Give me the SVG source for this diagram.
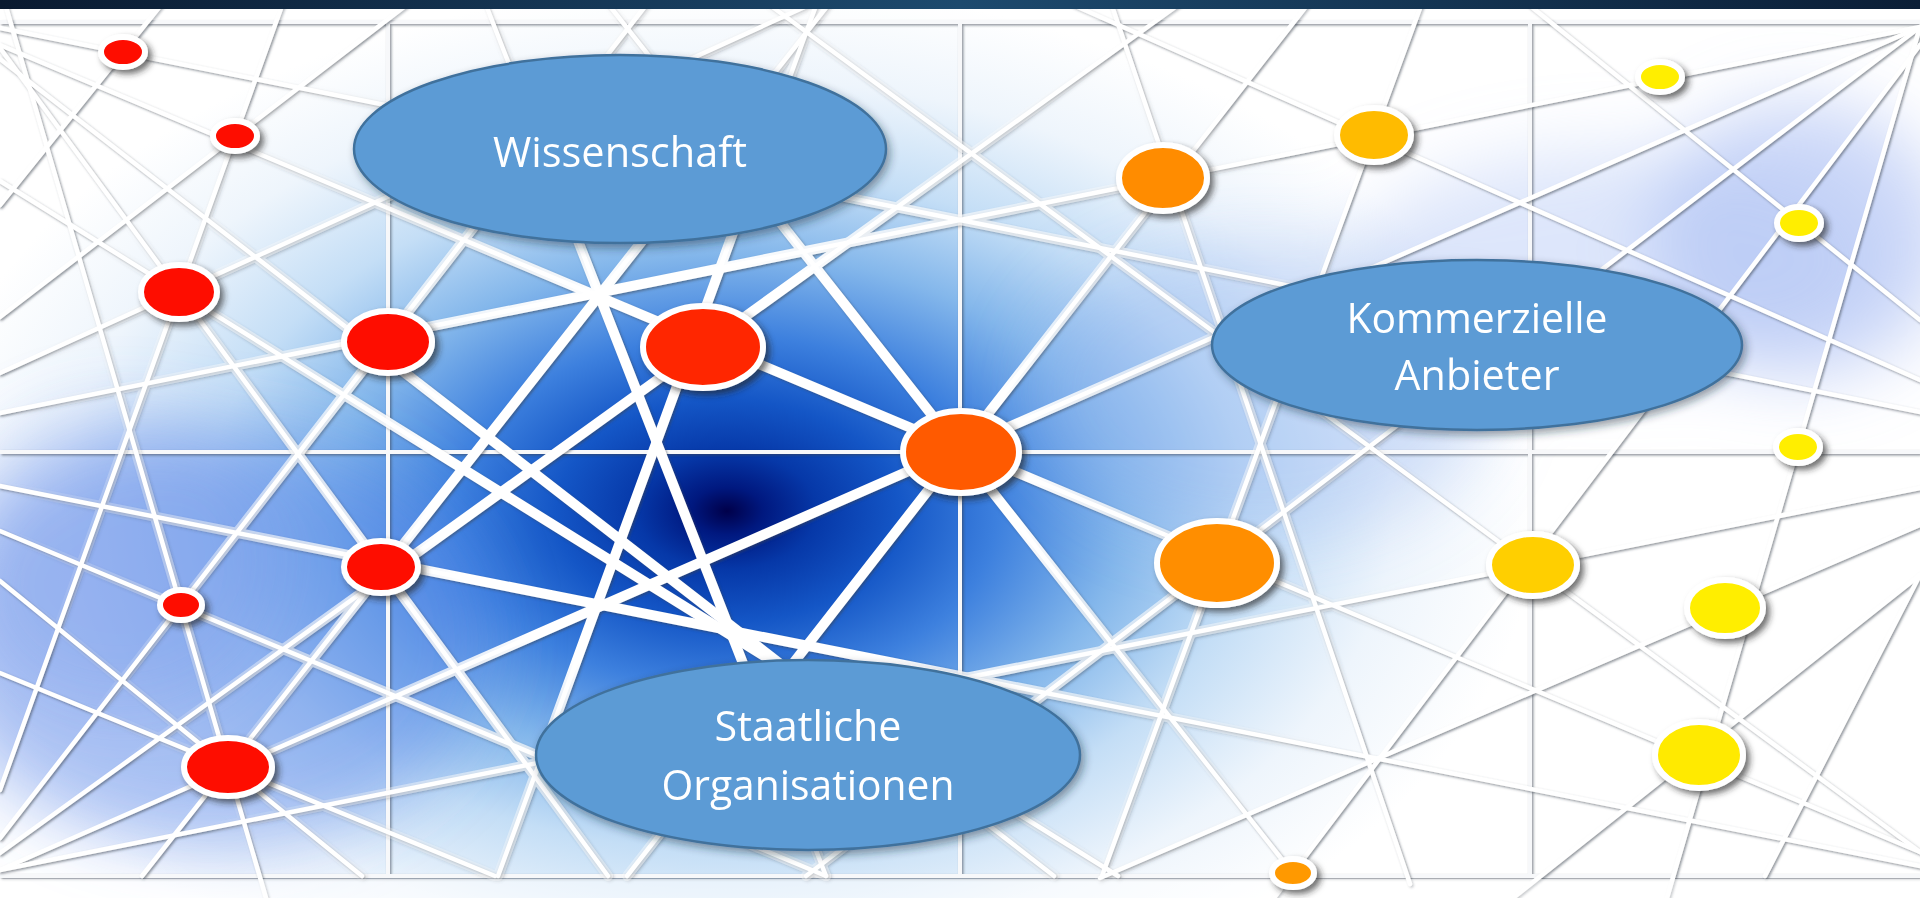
<svg xmlns="http://www.w3.org/2000/svg" xmlns:xlink="http://www.w3.org/1999/xlink" width="1920" height="898" viewBox="0 0 1920 898">
<defs>
  <radialGradient id="bg" gradientUnits="userSpaceOnUse" cx="727" cy="511" r="900" gradientTransform="translate(727 511) scale(1 0.65) translate(-727 -511)">
    <stop offset="0" stop-color="#00004a"/>
    <stop offset="0.04" stop-color="#00187f"/>
    <stop offset="0.1" stop-color="#0638a8"/>
    <stop offset="0.19" stop-color="#1456c6"/>
    <stop offset="0.3" stop-color="#3d80de"/>
    <stop offset="0.44" stop-color="#84b7eb"/>
    <stop offset="0.58" stop-color="#c4def6"/>
    <stop offset="0.74" stop-color="#eef5fc"/>
    <stop offset="0.9" stop-color="#ffffff"/>
  </radialGradient>
  <radialGradient id="maskGrad" gradientUnits="userSpaceOnUse" cx="727" cy="480" r="850" gradientTransform="translate(727 480) scale(1 0.7) translate(-727 -480)">
    <stop offset="0" stop-color="#fff"/>
    <stop offset="0.35" stop-color="#fff"/>
    <stop offset="0.6" stop-color="#777"/>
    <stop offset="0.85" stop-color="#000"/>
  </radialGradient>
  <linearGradient id="topband" x1="0" y1="0" x2="1" y2="0">
    <stop offset="0" stop-color="#0a1a30"/>
    <stop offset="0.5" stop-color="#1d4a6e"/>
    <stop offset="1" stop-color="#0b1e36"/>
  </linearGradient>
  <mask id="thickMask" maskUnits="userSpaceOnUse" x="0" y="0" width="1920" height="898">
    <rect width="1920" height="898" fill="url(#maskGrad)"/>
  </mask>
  <filter id="blur40" x="-50%" y="-50%" width="200%" height="200%">
    <feGaussianBlur stdDeviation="35"/>
  </filter>
  <filter id="lineShadow" x="-5%" y="-5%" width="110%" height="110%">
    <feDropShadow dx="1.5" dy="1.5" stdDeviation="1.2" flood-color="#3a4450" flood-opacity="0.55"/>
  </filter>
  <filter id="nodeShadow" x="-40%" y="-40%" width="180%" height="180%">
    <feDropShadow dx="4" dy="4" stdDeviation="3" flood-color="#202020" flood-opacity="0.65"/>
  </filter>
  <filter id="labelShadow" x="-20%" y="-30%" width="140%" height="160%">
    <feDropShadow dx="3" dy="4" stdDeviation="4" flood-color="#1c2a3a" flood-opacity="0.45"/>
  </filter>
  <style>
    .net line { stroke: #ffffff; stroke-linecap: round; }
    .grid line { stroke: #f7f8fa; stroke-width: 4; }
    .node ellipse { stroke: #ffffff; stroke-width: 6; }
    .label ellipse { fill: #5b9bd5; stroke: #41719c; stroke-width: 2.5; }
    .label text { font-family: "Open Sans", "Liberation Sans", sans-serif; font-size: 42px; fill: #ffffff; text-anchor: middle; }
  </style>
</defs>

<!-- background -->
<rect width="1920" height="898" fill="#ffffff"/>
<rect width="1920" height="898" fill="url(#bg)"/>
<g filter="url(#blur40)">
  <ellipse cx="210" cy="640" rx="280" ry="210" fill="#4f7fe6" opacity="0.45"/>
  <ellipse cx="120" cy="560" rx="160" ry="150" fill="#6c96ea" opacity="0.3"/>
  <ellipse cx="1800" cy="240" rx="150" ry="140" fill="#8fa9f0" opacity="0.45"/>
  <ellipse cx="1620" cy="260" rx="260" ry="110" fill="#a9c1f4" opacity="0.4"/>
  <ellipse cx="1260" cy="390" rx="230" ry="150" fill="#8fb3f0" opacity="0.35"/>
</g>

<!-- tile grid -->
<g id="grid" class="grid" filter="url(#lineShadow)">
  <line x1="0" y1="22" x2="1920" y2="22"/>
  <line x1="0" y1="452" x2="1920" y2="452"/>
  <line x1="0" y1="876" x2="1920" y2="876"/>
  <line x1="388" y1="22" x2="388" y2="876"/>
  <line x1="960" y1="22" x2="960" y2="876"/>
  <line x1="1530" y1="22" x2="1530" y2="876"/>
</g>

<!-- connectors -->
<g filter="url(#lineShadow)">
  <g style="stroke-width:4.5">
  <g id="connectors" class="net">
    <line x1="0" y1="45" x2="1920" y2="852"/>
    <line x1="1920" y1="27" x2="0" y2="870"/>
    <line x1="1920" y1="27" x2="0" y2="413"/>
    <line x1="0" y1="28" x2="1920" y2="412"/>
    <line x1="284" y1="0" x2="0" y2="790"/>
    <line x1="413" y1="0" x2="0" y2="317"/>
    <line x1="165" y1="0" x2="0" y2="205"/>
    <line x1="0" y1="48" x2="608" y2="876"/>
    <line x1="0" y1="373" x2="820" y2="0"/>
    <line x1="484" y1="0" x2="826" y2="876"/>
    <line x1="0" y1="486" x2="1920" y2="866"/>
    <line x1="627" y1="876" x2="1311" y2="0"/>
    <line x1="4" y1="0" x2="266" y2="898"/>
    <line x1="0" y1="531" x2="826" y2="876"/>
    <line x1="0" y1="838" x2="650" y2="0"/>
    <line x1="0" y1="853" x2="1185" y2="0"/>
    <line x1="605" y1="0" x2="1295" y2="876"/>
    <line x1="0" y1="870" x2="1920" y2="488"/>
    <line x1="1920" y1="27" x2="806" y2="876"/>
    <line x1="1110" y1="0" x2="1410" y2="884"/>
    <line x1="1274" y1="898" x2="1920" y2="45"/>
    <line x1="1100" y1="878" x2="1920" y2="525"/>
    <line x1="1920" y1="27" x2="1667" y2="898"/>
    <line x1="1513" y1="898" x2="1920" y2="575"/>
    <line x1="1523" y1="0" x2="1920" y2="320"/>
    <line x1="763" y1="0" x2="1920" y2="852"/>
    <line x1="818" y1="0" x2="498" y2="876"/>
    <line x1="0" y1="59" x2="1054" y2="876"/>
    <line x1="0" y1="181" x2="1118" y2="876"/>
    <line x1="1062" y1="0" x2="1920" y2="380"/>
    <line x1="1423" y1="0" x2="1102" y2="876"/>
    <line x1="1920" y1="575" x2="1765" y2="876"/>
    <line x1="0" y1="581" x2="362" y2="876"/>
    <line x1="0" y1="673" x2="495" y2="876"/>
    <line x1="832" y1="0" x2="142" y2="876"/>
  </g>
  </g>
  <use href="#connectors" mask="url(#thickMask)" style="stroke-width:10"/>
</g>

<!-- top band and reflection -->
<rect x="0" y="0" width="1920" height="9" fill="url(#topband)"/>
<rect x="0" y="9" width="1920" height="11" fill="#ffffff" opacity="0.35"/>
<rect x="0" y="879" width="1920" height="19" fill="#ffffff" opacity="0.5"/>

<!-- nodes -->
<g filter="url(#nodeShadow)">
  <g id="n1" class="node"><ellipse cx="123" cy="52" rx="22" ry="15" fill="#fe0a00"/></g>
  <g id="n2" class="node"><ellipse cx="235" cy="136" rx="22" ry="15" fill="#fe0a00"/></g>
  <g id="n3" class="node"><ellipse cx="179" cy="292" rx="38" ry="27" fill="#fe0a00"/></g>
  <g id="n4" class="node"><ellipse cx="388" cy="342" rx="44" ry="31" fill="#fe0a00"/></g>
  <g id="n5" class="node"><ellipse cx="703" cy="347" rx="60" ry="41" fill="#ff2800"/></g>
  <g id="n6" class="node"><ellipse cx="381" cy="567" rx="37" ry="26" fill="#fe0a00"/></g>
  <g id="n7" class="node"><ellipse cx="181" cy="605" rx="21" ry="15" fill="#fe0a00"/></g>
  <g id="n8" class="node"><ellipse cx="228" cy="767" rx="44" ry="29" fill="#fe0a00"/></g>
  <g id="n9" class="node"><ellipse cx="961" cy="452" rx="58" ry="41" fill="#ff5a00"/></g>
  <g id="n10" class="node"><ellipse cx="1163" cy="178" rx="44" ry="33" fill="#ff8c00"/></g>
  <g id="n11" class="node"><ellipse cx="1217" cy="563" rx="60" ry="42" fill="#ff8e00"/></g>
  <g id="n12" class="node"><ellipse cx="1374" cy="135" rx="37" ry="27" fill="#ffbb00"/></g>
  <g id="n13" class="node"><ellipse cx="1533" cy="565" rx="44" ry="31" fill="#ffcf00"/></g>
  <g id="n14" class="node"><ellipse cx="1293" cy="873" rx="21" ry="14" fill="#ff9900"/></g>
  <g id="n15" class="node"><ellipse cx="1660" cy="77" rx="22" ry="15" fill="#ffee00"/></g>
  <g id="n16" class="node"><ellipse cx="1799" cy="223" rx="22" ry="16" fill="#ffee00"/></g>
  <g id="n17" class="node"><ellipse cx="1798" cy="447" rx="22" ry="16" fill="#ffee00"/></g>
  <g id="n18" class="node"><ellipse cx="1725" cy="608" rx="38" ry="28" fill="#ffee00"/></g>
  <g id="n19" class="node"><ellipse cx="1699" cy="755" rx="44" ry="33" fill="#ffea00"/></g>
</g>

<!-- labelled ellipses -->
<g filter="url(#labelShadow)">
  <g id="wissenschaft" class="label">
    <ellipse cx="620" cy="149" rx="266" ry="94"/>
    <text x="620" y="167" textLength="254" lengthAdjust="spacingAndGlyphs">Wissenschaft</text>
  </g>
  <g id="kommerzielle" class="label">
    <ellipse cx="1477" cy="345" rx="265" ry="85"/>
    <text x="1477" y="333" textLength="261" lengthAdjust="spacingAndGlyphs">Kommerzielle</text>
    <text x="1477" y="390" textLength="165" lengthAdjust="spacingAndGlyphs">Anbieter</text>
  </g>
  <g id="staatliche" class="label">
    <ellipse cx="808" cy="755" rx="272" ry="95"/>
    <text x="808" y="741" textLength="187" lengthAdjust="spacingAndGlyphs">Staatliche</text>
    <text x="808" y="800" textLength="293" lengthAdjust="spacingAndGlyphs">Organisationen</text>
  </g>
</g>
</svg>
